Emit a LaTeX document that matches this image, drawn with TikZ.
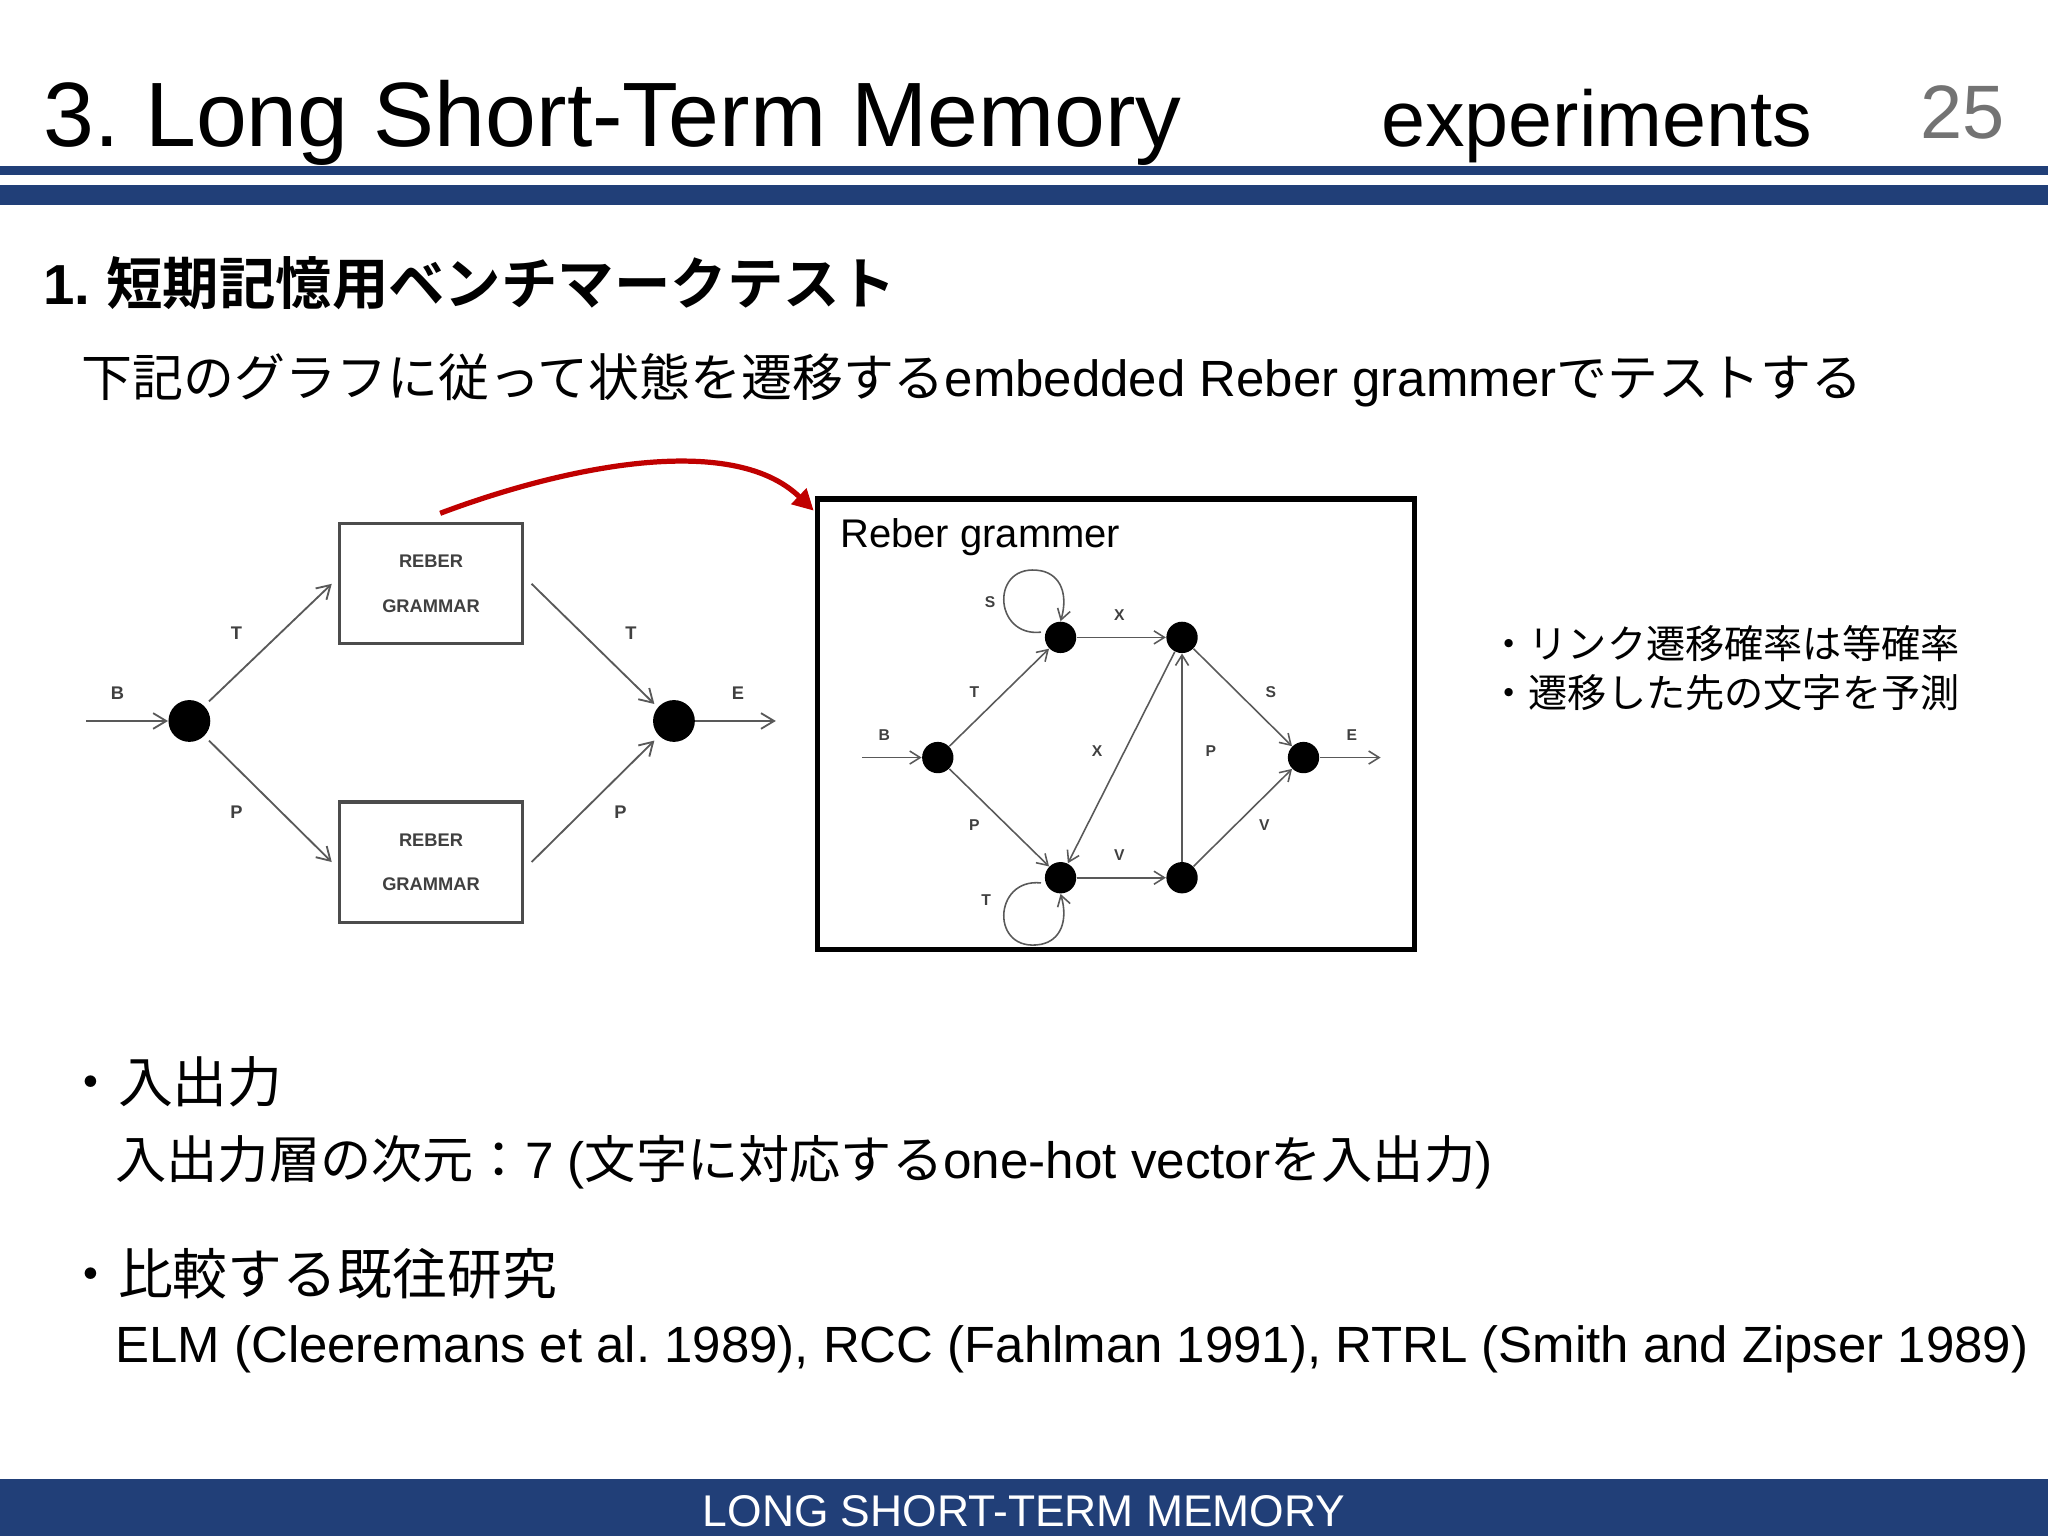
\documentclass[tikz,border=0pt]{standalone}
\usepackage{fontspec}
\setmainfont{Liberation Sans}
\newfontfamily\jp{Noto Sans CJK JP}
\newfontfamily\jpb{Noto Sans CJK JP Bold}
\usetikzlibrary{arrows.meta}
\definecolor{navy}{HTML}{213F78}
\definecolor{darkred}{HTML}{C00000}
\frenchspacing
\begin{document}
\begin{tikzpicture}[x=0.5pt,y=-0.5pt,
  dot/.style={circle,fill=black,inner sep=0pt,minimum size=#1},
  rg/.style={draw=black!70,line width=1.2pt,minimum width=70pt,minimum height=46pt,inner sep=0pt,align=center,font=\fontsize{7}{17}\selectfont\bfseries,text=black!75},
  ed/.style={draw=black!65,line width=0.7pt,-{Straight Barb[length=5pt,width=6pt]}},
  ed2/.style={draw=black!65,line width=0.6pt,-{Straight Barb[length=4pt,width=5pt]}},
  lb/.style={font=\fontsize{7}{8}\selectfont\bfseries,text=black!75},
  lb2/.style={font=\fontsize{6}{7}\selectfont\bfseries,text=black!75},
  tx/.style={anchor=west,inner sep=0pt}]
\useasboundingbox (0,0) rectangle (1568,1176);
\fill[white] (0,0) rectangle (1568,1176);
% header
\node[tx,anchor=base west] (title) at (33,112) {\fontsize{35}{38}\selectfont 3. Long Short-Term Memory};
\node[tx,anchor=base west] (exp) at (1057,112) {\fontsize{30.3}{34}\selectfont experiments};
\node[tx,anchor=base west,text=black!55] (pg) at (1470,106) {\fontsize{29}{32}\selectfont 25};
\fill[navy] (0,127) rectangle (1568,134);
\fill[navy] (0,142) rectangle (1568,157);
% headings
\node[tx] (h1) at (33,217) {\fontsize{21.6}{24}\selectfont\textbf{1. }\jpb 短期記憶用ベンチマークテスト};
\node[tx] (h2) at (62,291) {\fontsize{19.5}{22}\selectfont{\jp 下記のグラフに従って状態を遷移する}embedded Reber grammer{\jp でテストする}};
% left diagram
\node[dot=16pt] (a) at (145,552) {};
\node[dot=16pt] (b) at (516,552) {};
\node[rg] (r1) at (330,447) {REBER\\GRAMMAR};
\node[rg] (r2) at (330,660) {REBER\\GRAMMAR};
\coordinate (ain) at (66,552);
\coordinate (bout) at (594,552);
\draw[ed] (ain) -- (a.west);
\draw[ed] (b.east) -- (bout);
\draw[ed] (160,537) -- (254,447);
\draw[ed] (160,567) -- (254,660);
\draw[ed] (407,447) -- (501,539);
\draw[ed] (407,660) -- (501,567);
\node[lb] (lB) at (90,531) {B};
\node[lb] (lE) at (565,531) {E};
\node[lb] (lT1) at (181,485) {T};
\node[lb] (lP1) at (181,622) {P};
\node[lb] (lT2) at (483,485) {T};
\node[lb] (lP2) at (475,622) {P};
% red curve
\coordinate (rs) at (337,393);
\coordinate (re) at (623,391);
\draw[darkred,line width=2pt,-{Triangle[length=8pt,width=8pt]}] (rs) .. controls (430,358) and (560,330) .. (re);
% big box
\draw[line width=2pt] (626,382) rectangle (1083,727);
\node[tx] (rgt) at (643,411) {\fontsize{15.3}{17}\selectfont Reber grammer};
% inner graph
\node[dot=12pt] (n1) at (718,580) {};
\node[dot=12pt] (n2) at (812,488) {};
\node[dot=12pt] (n3) at (905,488) {};
\node[dot=12pt] (n4) at (812,672) {};
\node[dot=12pt] (n5) at (905,672) {};
\node[dot=12pt] (n6) at (998,580) {};
\coordinate (iin) at (660,580);
\coordinate (iout) at (1057,580);
\draw[ed2] (iin) -- (n1);
\draw[ed2] (n6) -- (iout);
\draw[ed2] (n1) -- (n2);
\draw[ed2] (n1) -- (n4);
\draw[ed2] (n2) -- (n3);
\draw[ed2] (n4) -- (n5);
\draw[ed2] (n3) -- (n4);
\draw[ed2] (n5) -- (n3);
\draw[ed2] (n3) -- (n6);
\draw[ed2] (n5) -- (n6);
\coordinate (s1) at (797,484);
\coordinate (t1) at (797,676);
\draw[ed2] (s1) .. controls (760,488) and (758,430) .. (797,437) .. controls (812,440) and (818,455) .. (n2.north);
\draw[ed2] (t1) .. controls (760,672) and (758,730) .. (797,723) .. controls (812,720) and (818,705) .. (n4.south);
\node[lb2] at (677,563) {B};
\node[lb2] at (1035,563) {E};
\node[lb2] at (746,530) {T};
\node[lb2] at (746,632) {P};
\node[lb2] at (857,471) {X};
\node[lb2] at (758,461) {S};
\node[lb2] at (755,689) {T};
\node[lb2] at (840,575) {X};
\node[lb2] at (927,575) {P};
\node[lb2] at (973,530) {S};
\node[lb2] at (968,632) {V};
\node[lb2] at (857,655) {V};
% notes
\node[tx] (nt1) at (1140,493) {\fontsize{15}{17}\selectfont\jp ・リンク遷移確率は等確率};
\node[tx] (nt2) at (1140,530) {\fontsize{15}{17}\selectfont\jp ・遷移した先の文字を予測};
% bullets
\node[tx] (b1) at (48,828) {\fontsize{21}{24}\selectfont\jp ・入出力};
\node[tx] (b1t) at (88,890) {\fontsize{19.6}{22}\selectfont{\jp 入出力層の次元：}7 ({\jp 文字に対応する}one-hot vector{\jp を入出力})};
\node[tx] (b2) at (48,975) {\fontsize{21}{24}\selectfont\jp ・比較する既往研究};
\node[tx] (b2t) at (88,1033) {\fontsize{19.5}{22}\selectfont ELM (Cleeremans et al. 1989), RCC (Fahlman 1991), RTRL (Smith and Zipser 1989)};
% footer
\fill[navy] (0,1132) rectangle (1568,1176);
\node[text=white] (ft) at (784,1157) {\fontsize{17}{19}\selectfont LONG SHORT-TERM MEMORY};
\end{tikzpicture}
\end{document}
